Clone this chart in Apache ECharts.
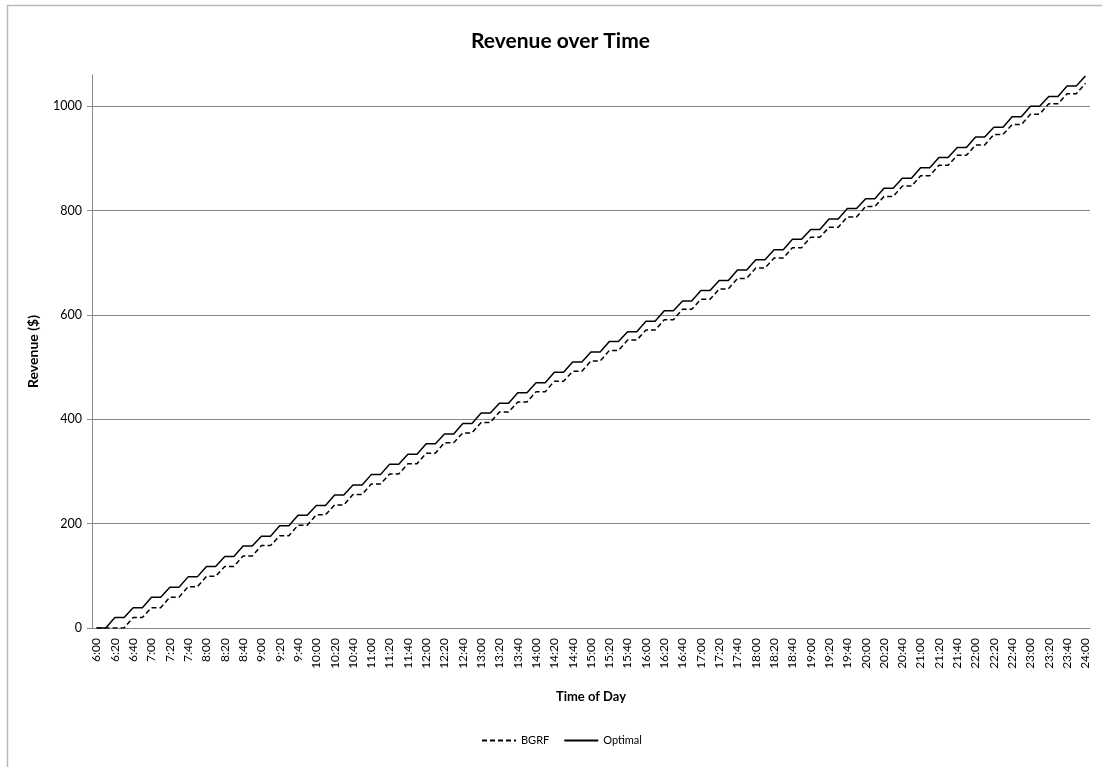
<!DOCTYPE html>
<html>
<head>
<meta charset="utf-8">
<script src="https://cdn.jsdelivr.net/npm/echarts@6/dist/echarts.min.js"></script>
<style>html,body{margin:0;padding:0;background:#fff;}#chart{width:1102px;height:767px;}</style>
</head>
<body>
<div id="chart"></div>
<script>
var categories = ['6:00','6:10','6:20','6:30','6:40','6:50','7:00','7:10','7:20','7:30','7:40','7:50',
'8:00','8:10','8:20','8:30','8:40','8:50','9:00','9:10','9:20','9:30','9:40','9:50',
'10:00','10:10','10:20','10:30','10:40','10:50','11:00','11:10','11:20','11:30','11:40','11:50',
'12:00','12:10','12:20','12:30','12:40','12:50','13:00','13:10','13:20','13:30','13:40','13:50',
'14:00','14:10','14:20','14:30','14:40','14:50','15:00','15:10','15:20','15:30','15:40','15:50',
'16:00','16:10','16:20','16:30','16:40','16:50','17:00','17:10','17:20','17:30','17:40','17:50',
'18:00','18:10','18:20','18:30','18:40','18:50','19:00','19:10','19:20','19:30','19:40','19:50',
'20:00','20:10','20:20','20:30','20:40','20:50','21:00','21:10','21:20','21:30','21:40','21:50',
'22:00','22:10','22:20','22:30','22:40','22:50','23:00','23:10','23:20','23:30','23:40','23:50','24:00'];

var bgrf = [0,0,0,0,20,20,39,39,59,59,79,79,99,99,118,118,138,138,158,158,177,177,197,197,
217,217,236,236,256,256,276,276,295,295,315,315,335,335,355,355,374,374,394,394,414,414,433,433,
453,453,473,473,492,492,512,512,532,532,552,552,571,571,591,591,611,611,630,630,650,650,670,670,
690,690,709,709,729,729,749,749,768,768,788,788,808,808,827,827,847,847,867,867,887,887,906,906,
926,926,946,946,965,965,985,985,1005,1005,1024,1024,1044];

var optimal = [0,0,20,20,39,39,59,59,78,78,98,98,118,118,137,137,157,157,176,176,196,196,216,216,
235,235,255,255,274,274,294,294,314,314,333,333,353,353,372,372,392,392,412,412,431,431,451,451,
470,470,490,490,510,510,529,529,549,549,568,568,588,588,608,608,627,627,647,647,666,666,686,686,
706,706,725,725,745,745,764,764,784,784,804,804,823,823,843,843,862,862,882,882,902,902,921,921,
941,941,960,960,980,980,1000,1000,1019,1019,1039,1039,1058];

var yTicks = [0,200,400,600,800,1000];

var FONT = 'Lato';
var chart = echarts.init(document.getElementById('chart'), null, {renderer:'canvas'});
chart.setOption({
  animation: false,
  backgroundColor: '#fff',
  graphic: [{
    type: 'rect', left: 5, top: 3, silent: true,
    shape: {x: 0, y: 0, width: 1300, height: 1000},
    style: {fill: 'none', stroke: '#b8b8b8', lineWidth: 1.5}
  }],
  title: {
    text: 'Revenue over Time',
    left: 466, top: 26,
    textStyle: {fontFamily: FONT, fontSize: 21, fontWeight: 'bold', color: '#000'}
  },
  legend: {
    bottom: 16, left: 476,
    itemWidth: 34, itemHeight: 10, itemGap: 14,
    itemStyle: {opacity: 0},
    textStyle: {fontFamily: FONT, fontSize: 11, color: '#000'},
    data: ['BGRF', 'Optimal']
  },
  grid: {left: 92, right: 12, top: 75, bottom: 139, containLabel: false},
  xAxis: {
    type: 'category',
    data: categories,
    boundaryGap: true,
    name: 'Time of Day',
    nameLocation: 'middle',
    nameGap: 62,
    nameTextStyle: {fontFamily: FONT, fontSize: 13, fontWeight: 'bold', color: '#000'},
    axisLine: {show: true, lineStyle: {color: '#888', width: 1}},
    axisTick: {show: false},
    axisLabel: {interval: 1, rotate: 90, margin: 10, fontFamily: FONT, fontSize: 12, color: '#000'},
    splitLine: {show: false}
  },
  yAxis: {
    type: 'value',
    min: 0, max: 1060, interval: 200,
    name: 'Revenue ($)',
    nameLocation: 'middle',
    nameGap: 52,
    nameTextStyle: {fontFamily: FONT, fontSize: 14, fontWeight: 'bold', color: '#000'},
    axisLine: {show: true, lineStyle: {color: '#888', width: 1}},
    axisTick: {show: true, length: 5, lineStyle: {color: '#888'}, customValues: yTicks},
    axisLabel: {margin: 10, fontFamily: FONT, fontSize: 12.5, color: '#000', customValues: yTicks,
      formatter: function (v) { return String(v); }},
    splitLine: {show: true, showMinLine: false, lineStyle: {color: '#888', width: 1}}
  },
  series: [
    {name: 'BGRF', type: 'line', data: bgrf, symbol: 'none', showSymbol: false,
     lineStyle: {color: '#000', width: 1.5, type: [5, 3]}, itemStyle: {color: '#000'}},
    {name: 'Optimal', type: 'line', data: optimal, symbol: 'none', showSymbol: false,
     lineStyle: {color: '#000', width: 1.5, type: 'solid'}, itemStyle: {color: '#000'}}
  ]
});
</script>
</body>
</html>
